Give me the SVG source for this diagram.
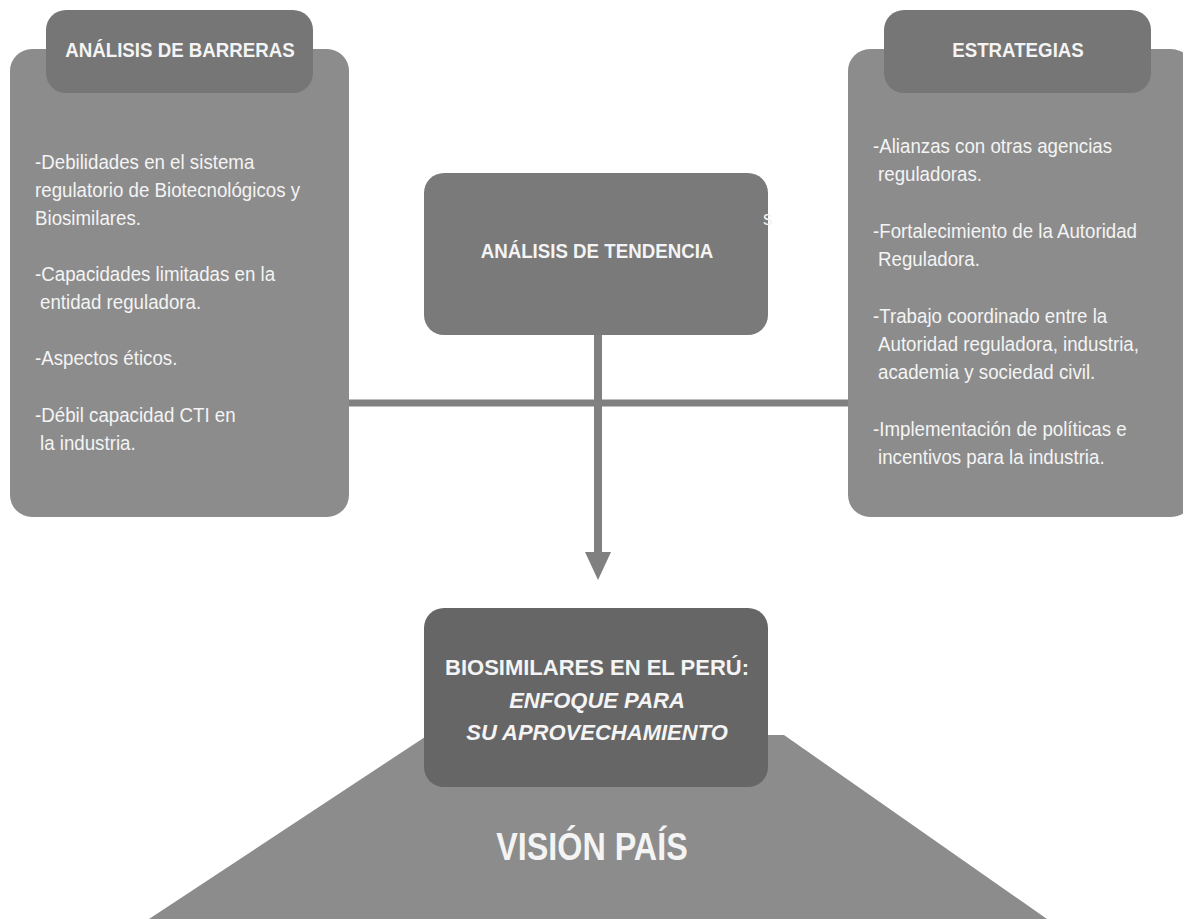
<svg xmlns="http://www.w3.org/2000/svg" width="1183" height="919" viewBox="0 0 1183 919">
<style>
.box{fill:#8c8c8c}
.hdr{fill:#767676}
.mid{fill:#7a7a7a}
.dark{fill:#666666}
.t{font-family:"Liberation Sans",Arial,sans-serif;font-size:20.5px;fill:#f4f4f4}
.b{font-weight:bold}
.i{font-style:italic}
.ln{stroke:#808080;stroke-width:7;fill:none}
</style>
<rect width="1183" height="919" fill="#ffffff"/>
<g id="connectors">
<line class="ln" x1="345" y1="403" x2="852" y2="403"/>
<line class="ln" x1="598" y1="330" x2="598" y2="554" style="stroke-width:8"/>
<polygon points="585,552 611,552 598,580" fill="#808080"/>
</g>
<g id="barreras">
<rect class="box" x="10" y="49" width="339" height="468" rx="22"/>
<rect class="hdr" x="46" y="10" width="267" height="83" rx="20"/>
<g transform="translate(180 0) scale(0.913 1)"><text class="t b" x="0" y="57" text-anchor="middle">ANÁLISIS DE BARRERAS</text></g>
<g transform="translate(35 0) scale(0.913 1)">
<text class="t" x="0" y="169">-Debilidades en el sistema</text>
<text class="t" x="0" y="197">regulatorio de Biotecnológicos y</text>
<text class="t" x="0" y="225">Biosimilares.</text>
<text class="t" x="0" y="281">-Capacidades limitadas en la</text>
<text class="t" x="5.5" y="309">entidad reguladora.</text>
<text class="t" x="0" y="365">-Aspectos éticos.</text>
<text class="t" x="0" y="422">-Débil capacidad CTI en</text>
<text class="t" x="5.5" y="450">la industria.</text>
</g>
</g>
<g id="estrategias">
<rect class="box" x="848" y="49" width="345" height="468" rx="22"/>
<rect class="hdr" x="884" y="10" width="267" height="83" rx="20"/>
<g transform="translate(1018 0) scale(0.913 1)"><text class="t b" x="0" y="57" text-anchor="middle">ESTRATEGIAS</text></g>
<g transform="translate(873 0) scale(0.913 1)">
<text class="t" x="0" y="153">-Alianzas con otras agencias</text>
<text class="t" x="5.5" y="181">reguladoras.</text>
<text class="t" x="0" y="238">-Fortalecimiento de la Autoridad</text>
<text class="t" x="5.5" y="266">Reguladora.</text>
<text class="t" x="0" y="323">-Trabajo coordinado entre la</text>
<text class="t" x="5.5" y="351">Autoridad reguladora, industria,</text>
<text class="t" x="5.5" y="379">academia y sociedad civil.</text>
<text class="t" x="0" y="436">-Implementación de políticas e</text>
<text class="t" x="5.5" y="464">incentivos para la industria.</text>
</g>
</g>
<g id="tendencia">
<rect class="mid" x="424" y="173" width="344" height="162" rx="20"/>
<g transform="translate(597 0) scale(0.913 1)"><text class="t b" x="0" y="258" text-anchor="middle">ANÁLISIS DE TENDENCIA</text></g>
<g transform="translate(763 0) scale(0.913 1)"><text class="t" x="0" y="225">s</text></g>
</g>
<g id="vision">
<polygon class="box" points="149,919 428,735 784,735 1047,919"/>
<g transform="translate(592 0) scale(0.85 1)"><text class="t b" x="0" y="860" text-anchor="middle" style="font-size:38px">VISIÓN PAÍS</text></g>
</g>
<g id="biosimilares">
<rect class="dark" x="424" y="608" width="344" height="179" rx="20"/>
<text class="t b" x="597" y="675" text-anchor="middle" style="font-size:22px">BIOSIMILARES EN EL PERÚ:</text>
<text class="t b i" x="597" y="708" text-anchor="middle" style="font-size:22px">ENFOQUE PARA</text>
<text class="t b i" x="597" y="740" text-anchor="middle" style="font-size:22px">SU APROVECHAMIENTO</text>
</g>
</svg>
